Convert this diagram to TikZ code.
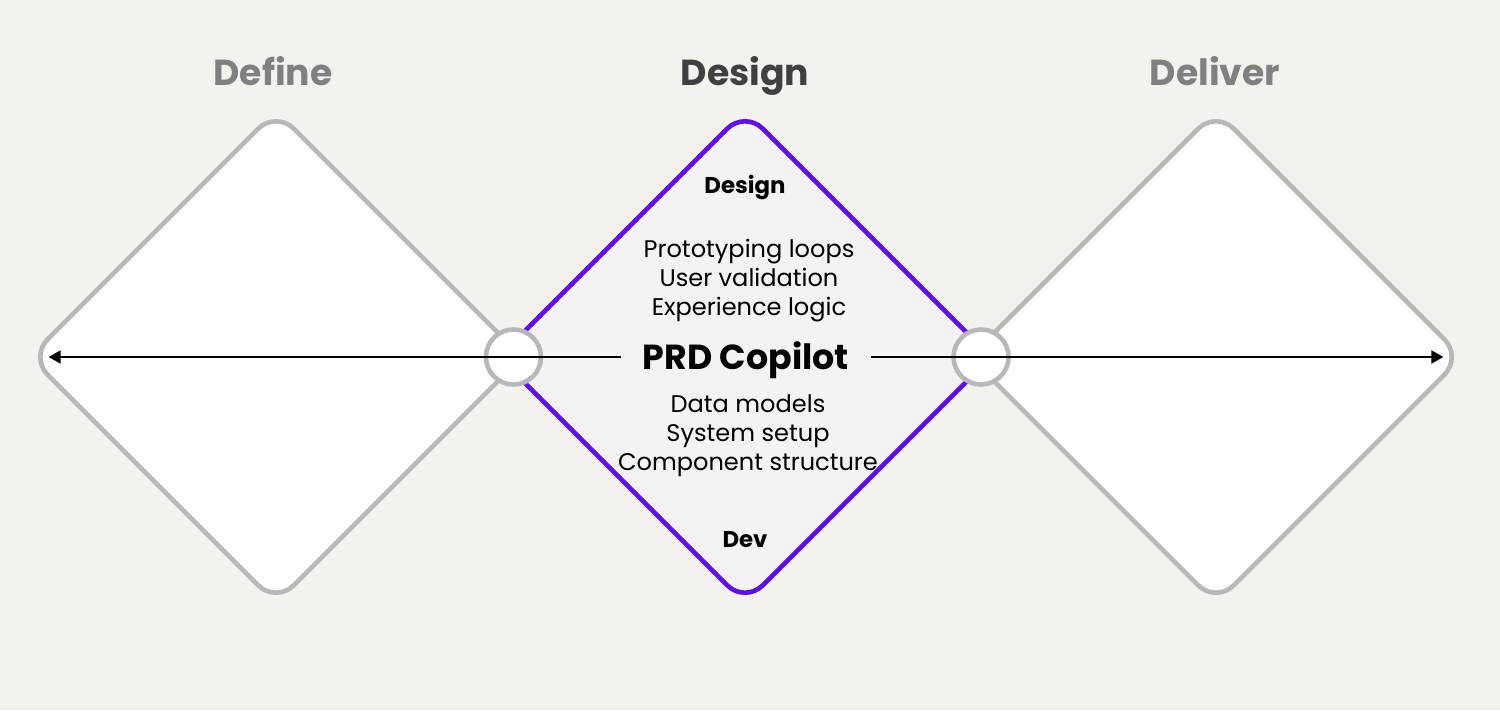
\documentclass[tikz,border=0pt]{standalone}
\usepackage{fontspec}
\setmainfont{Poppins}
\usetikzlibrary{shapes.geometric,arrows.meta,calc}

\newlength{\du}
\setlength{\du}{0.02cm}

\definecolor{diabgcolor}{RGB}{243,242,238}
\definecolor{diaidlecolor}{RGB}{184,184,184}
\definecolor{diaactivecolor}{RGB}{94,14,238}
\definecolor{diapanelcolor}{RGB}{243,243,244}
\definecolor{diaheadidle}{RGB}{128,128,128}
\definecolor{diaheadactive}{RGB}{64,64,64}

\tikzset{
  phasebox/.style={diamond, aspect=1, minimum width=494\du, minimum height=494\du,
    inner sep=0pt, rounded corners=25\du, line width=4.6\du, draw=diaidlecolor, fill=white},
  jointbox/.style={circle, minimum size=55\du, inner sep=0pt, line width=4.6\du,
    draw=diaidlecolor, fill=white},
  headtext/.style={font=\bfseries\fontsize{20.6}{24}\selectfont, inner sep=0pt, anchor=base},
  tagtext/.style={font=\bfseries\fontsize{13}{15}\selectfont, inner sep=0pt, anchor=base},
  listtext/.style={font=\fontsize{13.7}{16.5}\selectfont, align=center, inner sep=0pt},
  flowline/.style={line width=0.95pt, -{Triangle[length=6.8pt, width=7.4pt]}, shorten >=12.5pt}
}

\begin{document}
\begin{tikzpicture}[x=\du,y=-\du]
\fill[diabgcolor] (0,0) rectangle (1500,710);
\useasboundingbox (0,0) rectangle (1500,710);

\node[phasebox] (define) at (276,357) {};
\node[phasebox] (deliver) at (1216,357) {};
\node[phasebox, draw=diaactivecolor, fill=diapanelcolor] (design) at (745,357) {};

\node[jointbox] (leftjoint) at ($(define.east)!0.4!(design.west)$) {};
\node[jointbox] (rightjoint) at ($(design.east)!0.48!(deliver.west)$) {};

\node[headtext, text=diaheadidle] (definehead) at (273,85) {Define};
\node[headtext, text=diaheadactive] (designhead) at (745,85) {Design};
\node[headtext, text=diaheadidle] (deliverhead) at (1215,85) {Deliver};

\node[font=\bfseries\fontsize{19.8}{24}\selectfont, text height=24\du, text depth=0pt,
  inner ysep=0pt, inner xsep=22\du] (prd) at (746,357) {PRD Copilot};

\draw[flowline] (prd.west) -- (define.west);
\draw[flowline] (prd.east) -- (deliver.east);

\node[tagtext] (designtag) at (745,193) {Design};
\node[tagtext] (devtag) at (745,547) {Dev};
\node[listtext] (designlist) at (749,281) {Prototyping loops\\User validation\\Experience logic};
\node[listtext] (devlist) at (748,436) {Data models\\System setup\\Component structure};
\end{tikzpicture}
\end{document}
